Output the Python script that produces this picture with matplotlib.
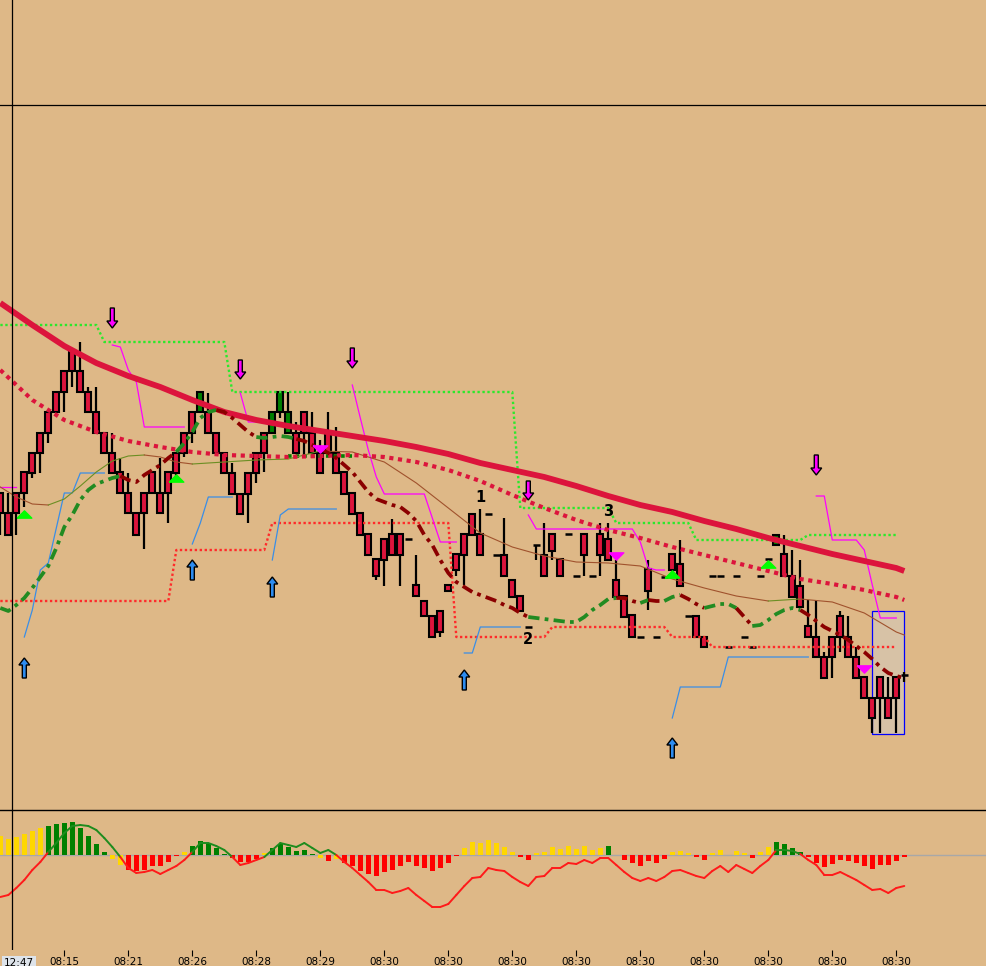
import numpy as np
import matplotlib
matplotlib.use("Agg")
import matplotlib.pyplot as plt
from matplotlib.patches import Rectangle, FancyArrow

# ---------------- price bars (one per minute bar) ----------------
opens = [507, 487, 507, 528, 547, 567, 588, 608, 629, 649,
         629, 608, 588, 567, 547, 528, 507, 487, 507, 528,
         507, 528, 547, 567, 588, 588, 588, 567, 547, 527,
         506, 527, 547, 567, 567, 588, 567, 567, 588, 567,
         547, 567, 547, 528, 507, 487, 466, 441, 461, 466,
         466, 461, 415, 399, 384, 389, 415, 446, 466, 486,
         466, 486, 445, 445, 420, 404, 373, 455, 445, 466,
         441, 466, 424, 466, 424, 466, 461, 420, 404, 385,
         363, 431, 363, 423, 446, 436, 384, 384, 363, 424,
         424, 353, 424, 363, 353, 424, 441, 455, 446, 424,
         414, 374, 363, 343, 363, 384, 363, 343, 323, 302,
         323, 302, 323, 325]
highs = [507, 507, 507, 528, 547, 567, 588, 608, 629, 649,
         658, 613, 613, 567, 567, 542, 527, 487, 507, 528,
         542, 528, 547, 567, 588, 608, 607, 567, 547, 537,
         506, 527, 547, 567, 588, 608, 608, 578, 588, 588,
         560, 588, 573, 528, 507, 487, 466, 441, 461, 481,
         466, 461, 445, 399, 384, 389, 415, 446, 466, 486,
         491, 486, 445, 482, 420, 404, 373, 455, 477, 466,
         441, 466, 424, 466, 424, 477, 477, 440, 404, 385,
         363, 440, 363, 423, 446, 460, 384, 384, 363, 424,
         424, 353, 424, 363, 353, 424, 441, 465, 465, 450,
         440, 400, 400, 348, 363, 389, 384, 353, 323, 302,
         323, 323, 323, 328]
lows = [465, 465, 465, 493, 522, 527, 557, 588, 588, 613,
        608, 588, 567, 547, 527, 507, 487, 465, 451, 507,
        487, 477, 518, 543, 557, 588, 567, 547, 527, 506,
        486, 477, 517, 528, 567, 582, 567, 547, 543, 547,
        527, 547, 527, 506, 486, 465, 445, 420, 414, 445,
        414, 461, 404, 384, 363, 363, 409, 424, 415, 465,
        445, 486, 445, 424, 403, 389, 373, 440, 424, 440,
        424, 466, 424, 424, 424, 424, 440, 403, 383, 363,
        363, 390, 363, 423, 430, 414, 384, 363, 353, 424,
        424, 353, 424, 363, 353, 424, 441, 455, 424, 403,
        393, 363, 343, 322, 322, 348, 343, 322, 302, 267,
        267, 282, 267, 318]
closes = [487, 465, 487, 507, 527, 547, 567, 588, 608, 629,
          608, 588, 567, 547, 527, 507, 487, 465, 487, 507,
          487, 507, 527, 547, 567, 608, 567, 547, 527, 506,
          486, 506, 527, 547, 588, 608, 588, 547, 567, 547,
          527, 547, 527, 506, 486, 465, 445, 424, 440, 445,
          445, 461, 404, 384, 363, 368, 409, 430, 445, 465,
          445, 486, 445, 424, 403, 389, 373, 455, 424, 449,
          424, 466, 424, 445, 424, 445, 440, 403, 383, 363,
          363, 409, 363, 423, 430, 414, 384, 363, 353, 424,
          424, 353, 424, 363, 353, 424, 441, 465, 424, 403,
          393, 363, 343, 322, 343, 363, 343, 322, 302, 282,
          302, 282, 302, 325]

# ---------------- moving averages ----------------
ma_idx = list(range(0, 113, 4)) + [113]
ma_slow = [697, 675, 654, 637, 624, 613, 600, 588, 580, 574,
           569, 564, 559, 553, 546, 537, 530, 523, 514, 504,
           495, 488, 479, 471, 462, 454, 446, 439, 432, 429]
ma_mid = [630, 600, 580, 568, 559, 553, 548, 545, 544, 543,
          544, 545, 543, 538, 530, 519, 505, 492, 480, 470,
          462, 453, 445, 437, 429, 421, 416, 410, 403, 400]
fast_idx = [0, 2, 4, 6, 8, 10, 12, 14, 16, 18, 20, 22, 24, 28, 32, 36, 40, 44,
            48, 52, 56, 60, 64, 68, 72, 76, 80, 84, 88, 92, 96, 100, 104, 108, 112, 113]
ma_fast = [513, 503, 496, 495, 501, 514, 528, 539, 544, 545, 543, 538, 536, 538, 540, 541, 549, 548,
           538, 517, 492, 467, 453, 444, 438, 437, 434, 421, 412, 404, 399, 401, 398, 387, 368, 365]
trend_ma = [392, 389, 395, 402, 412, 423, 434, 452, 473, 485,
            500, 510, 516, 519, 522, 524, 520, 518, 525, 530,
            535, 542, 548, 557, 568, 582, 588, 590, 588, 582,
            575, 568, 563, 562, 563, 564, 563, 561, 559, 555,
            551, 547, 542, 535, 528, 518, 508, 501, 498, 495,
            493, 487, 479, 465, 455, 440, 427, 418, 413, 408,
            405, 402, 399, 395, 392, 387, 383, 382, 381, 380,
            379, 378, 378, 383, 390, 395, 401, 402, 402, 399,
            397, 400, 399, 399, 403, 405, 401, 396, 392, 394,
            396, 396, 392, 383, 374, 375, 380, 386, 390, 392,
            390, 385, 379, 373, 369, 365, 360, 354, 348, 341,
            333, 327, 324, 322]
# colour changes of the trend average (starts green, then alternates)
trend_breaks = [0, 15, 22, 27, 32, 37, 66, 77, 80, 81, 83, 85, 88, 92, 94, 100, 113]

# ---------------- stop lines ----------------
upper_stop_levels = [675, 658, 608, 492, 477, 460, 465]
upper_stop_starts = [0, 13, 29, 65, 77, 87, 101]
lower_stop_levels = [399, 450, 477, 363, 373, 363, 353]
lower_stop_starts = [0, 22, 34, 57, 69, 84, 89]
stop_end = 112
short_stop = (36, 44, 544)

magenta_stop = [(0, [513, 513, 513]),
                (14, [655, 653, 630, 618, 573, 573, 573, 573, 573, 573]),
                (30, [607, 578, 578, 578]),
                (44, [615, 582, 550, 523, 506, 506, 506, 506, 506, 506, 482, 458, 458, 458]),
                (66, [485] + [471] * 13 + [458, 432, 430, 430]),
                (102, [504, 504, 460, 460, 460, 460, 450, 415, 382, 382, 382])]
blue_stop = [(3, [363, 390, 430, 437, 472, 507, 507, 527, 527, 527, 527]),
             (24, [456, 477, 503, 503, 503, 503]),
             (34, [440, 485, 491, 491, 491, 491, 491, 491, 491]),
             (58, [347, 347, 373, 373, 373, 373, 373, 373]),
             (84, [282] + [313] * 6 + [343] * 11)]

# ---------------- signals ----------------
sell_arrows = [(14, 692, 672), (30, 640, 621), (44, 652, 632), (66, 519, 500), (102, 545, 525)]
buy_arrows = [(3, 322, 342), (24, 420, 440), (34, 403, 423), (58, 310, 330), (84, 242, 262)]
up_tri = [(3, 486), (22, 522), (84, 426), (96, 436)]
down_tri = [(40, 551), (77, 444), (108, 331)]
wave_labels = [("1", 60, 503), ("2", 66, 361), ("3", 76, 488)]
box = (109, 113, 266, 389)
cross_bar, cross_price = 1.46, 895
cross_time = "12:47"

# ---------------- oscillator ----------------
hist = [19, 16, 18, 21, 24, 27, 29, 31, 32, 33,
        27, 19, 11, 3, -4, -10, -15, -16, -15, -11,
        -11, -7, -1, 3, 9, 14, 12, 7, 1, -3,
        -7, -7, -4, 2, 7, 11, 8, 4, 5, 1,
        -3, -6, -4, -8, -11, -16, -19, -21, -17, -15,
        -11, -7, -11, -13, -16, -13, -8, -1, 7, 13,
        12, 15, 12, 8, 3, -2, -5, 2, 3, 8,
        6, 9, 6, 9, 5, 7, 9, 0, -5, -8,
        -11, -6, -8, -4, 3, 4, 2, -2, -5, 2,
        5, 0, 4, 2, -3, 3, 8, 13, 11, 7,
        3, -2, -8, -12, -9, -5, -6, -8, -11, -14,
        -10, -10, -6, -2]
hist_col = ("yyyyyy" + "gggggggg" + "yy" + "rrrrrrr" + "y" + "ggggg" + "rrrr" + "y" + "gggggg"
            + "yry" + "r" * 15 + "y" * 7 + "rr" + "y" * 9 + "g" + "y" + "r" * 6 + "yyy" + "rr"
            + "yy" + "y" + "yy" + "r" + "yy" + "gggg" + "r" * 13)
signal = [-42, -40, -33, -25, -15, -7, 3, 12, 22, 29,
          30, 29, 25, 17, 8, -2, -13, -18, -17, -15,
          -19, -15, -11, -5, 3, 12, 12, 9, 5, -2,
          -10, -8, -5, -2, 5, 12, 10, 8, 12, 7,
          2, 5, 0, -7, -13, -20, -27, -35, -35, -38,
          -36, -33, -40, -46, -52, -52, -49, -40, -31, -23,
          -22, -13, -15, -16, -22, -27, -31, -22, -21, -13,
          -13, -8, -9, -5, -8, -3, -3, -10, -17, -23,
          -26, -23, -26, -22, -16, -15, -18, -21, -23, -16,
          -11, -17, -10, -14, -18, -11, -5, 5, 5, 4,
          1, -5, -10, -20, -20, -17, -21, -25, -30, -35,
          -34, -38, -33, -31]

tick_bars = list(range(8, 113, 8))
tick_labels = ["08:15", "08:21", "08:26", "08:28", "08:29"] + ["08:30"] * 9

BG = "#DEB887"
HCOL = {"y": "#FFD700", "g": "#008000", "r": "#FF0000"}


def color_runs(ax, x, y, up_col, dn_col, **kw):
    # split a line into runs that rise / fall and colour them
    x = np.asarray(x, float)
    y = np.asarray(y, float)
    d = np.sign(np.diff(y))
    d[d == 0] = 1
    start = 0
    for k in range(1, len(d) + 1):
        if k == len(d) or d[k] != d[start]:
            ax.plot(x[start:k + 1], y[start:k + 1], color=up_col if d[start] > 0 else dn_col, **kw)
            start = k


def step_series(levels, starts, end):
    lens = np.diff(starts + [end + 1])
    return np.arange(starts[0], end + 1), np.repeat(levels, lens)


fig = plt.figure(figsize=(9.87, 9.66), dpi=100, facecolor=BG)
ax = fig.add_axes([0, 156 / 966, 1, 810 / 966], facecolor=BG)
ax2 = fig.add_axes([0, 16 / 966, 1, 140 / 966], facecolor=BG)

n = len(opens)
x = np.arange(n)

# box around the last bars
ax.add_patch(Rectangle((box[0], box[2]), box[1] - box[0], box[3] - box[2],
                       facecolor="#D7C2A6", edgecolor="#0000FF", lw=0.9, zorder=1))

# candles
for i in range(n):
    o, h, l, c = opens[i], highs[i], lows[i], closes[i]
    if h > l:
        ax.plot([i, i], [l, h], color="black", lw=1.6, zorder=3, solid_capstyle="butt")
    if o == c:
        ax.plot([i - 0.42, i + 0.42], [o, o], color="black", lw=1.8, zorder=3, solid_capstyle="butt")
    else:
        fc = "#008000" if c > o else "#DC143C"
        ax.add_patch(Rectangle((i - 0.37, min(o, c)), 0.74, abs(c - o),
                               facecolor=fc, edgecolor="black", lw=1.5, zorder=3))

# stop lines
sx, sy = step_series(upper_stop_levels, upper_stop_starts, stop_end)
ax.plot(sx, sy, color="#2CE82C", lw=1.7, ls=(0, (1, 1.1)), zorder=4)
sx, sy = step_series(lower_stop_levels, lower_stop_starts, stop_end)
ax.plot(sx, sy, color="#FF2A2A", lw=1.7, ls=(0, (1, 1.1)), zorder=4)
ax.plot([short_stop[0], short_stop[1]], [short_stop[2]] * 2, color="#008000", lw=2.6,
        ls=(0, (1, 1.1)), zorder=4)

for s, vals in magenta_stop:
    ax.plot(np.arange(s, s + len(vals)), vals, color="#FF00FF", lw=0.9, zorder=4)
for s, vals in blue_stop:
    ax.plot(np.arange(s, s + len(vals)), vals, color="#3A8EE6", lw=0.9, zorder=4)

# averages
color_runs(ax, fast_idx, ma_fast, "#6B8E23", "#A0522D", lw=0.8, zorder=4)
ax.plot(ma_idx, ma_mid, color="#DC143C", lw=3.0, ls=(0, (1, 1.1)), zorder=5)
ax.plot(ma_idx, ma_slow, color="#DC143C", lw=4.2, zorder=5, solid_capstyle="butt")
for k in range(len(trend_breaks) - 1):
    a, b = trend_breaks[k], trend_breaks[k + 1]
    col = "#228B22" if k % 2 == 0 else "#8B0000"
    ax.plot(x[a:b + 1], trend_ma[a:b + 1], color=col, lw=2.7, ls=(0, (3, 1.4, 1, 1.4)), zorder=5)

# arrows and triangles
for i, y0, y1 in sell_arrows:
    ax.add_patch(FancyArrow(i, y0, 0, y1 - y0, width=0.5, head_width=1.35, head_length=7,
                            length_includes_head=True, fc="#FF00FF", ec="black", lw=1.0, zorder=6))
for i, y0, y1 in buy_arrows:
    ax.add_patch(FancyArrow(i, y0, 0, y1 - y0, width=0.5, head_width=1.35, head_length=7,
                            length_includes_head=True, fc="#2D8CF0", ec="black", lw=1.0, zorder=6))
tri_up = [(-1, -0.5), (1, -0.5), (0, 0.5), (-1, -0.5)]
tri_dn = [(-1, 0.5), (1, 0.5), (0, -0.5), (-1, 0.5)]
ax.plot([t[0] for t in up_tri], [t[1] for t in up_tri], ls="none", marker=tri_up,
        ms=10.5, color="#00FF00", zorder=6)
ax.plot([t[0] for t in down_tri], [t[1] for t in down_tri], ls="none", marker=tri_dn,
        ms=10.5, color="#FF00FF", zorder=6)
for txt, i, y in wave_labels:
    ax.text(i, y, txt, ha="center", va="center", fontsize=10.5, fontweight="bold", zorder=7)

# crosshair
ax.axhline(cross_price, color="black", lw=0.9, zorder=7)
ax.axvline(cross_bar, color="black", lw=0.9, zorder=7)
ax2.axvline(cross_bar, color="black", lw=0.9, zorder=7)

ax.set_xlim(-0.04, 123.34)
ax.set_ylim(190, 1000)
ax.set_xticks([])
ax.set_yticks([])
for sp in ax.spines.values():
    sp.set_visible(False)

# oscillator panel
ax2.axhline(0, color="#A8A8A8", lw=1, zorder=1)
ax2.bar(x, hist, width=0.6, color=[HCOL[c] for c in hist_col], zorder=2)
sig = np.array(signal, float)
for k in range(n - 1):
    col = "#1E8C1E" if sig[k] + sig[k + 1] > 0 else "#FF1A1A"
    ax2.plot([k, k + 1], sig[k:k + 2], color=col, lw=1.4, zorder=3, solid_capstyle="round")

ax2.set_xlim(-0.04, 123.34)
ax2.set_ylim(-95, 45)
ax2.set_yticks([])
ax2.set_xticks(tick_bars)
ax2.set_xticklabels(tick_labels)
ax2.tick_params(axis="x", length=4, width=0.8, pad=1, labelsize=7.5, direction="out")
for name, sp in ax2.spines.items():
    sp.set_visible(name == "top")
ax2.spines["top"].set_linewidth(1)
# crosshair time label, pinned to the left edge
ax2.text(0.004, -0.09, cross_time, transform=ax2.transAxes, ha="left",
         va="center", fontsize=7.5, zorder=8,
         bbox=dict(boxstyle="square,pad=0.2", fc="#DDE3EA", ec="none"))

fig.savefig("out.png", dpi=100, facecolor=BG)
